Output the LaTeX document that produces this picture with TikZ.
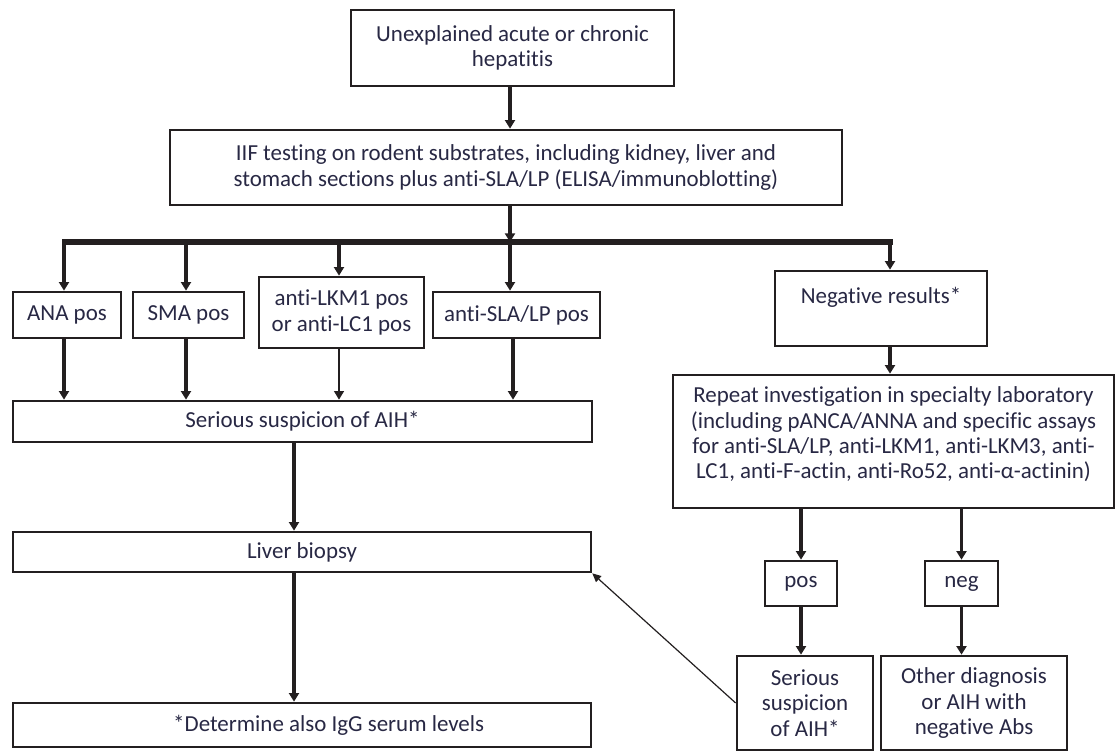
\documentclass[tikz,border=0pt]{standalone}
\usepackage{fontspec}
\setmainfont{Carlito}[Ligatures=NoCommon]
\usetikzlibrary{arrows.meta}
\definecolor{ink}{RGB}{35,31,32}
\definecolor{txt}{RGB}{40,40,68}
\begin{document}
\begin{tikzpicture}[x=0.75pt,y=-0.75pt,
  box/.style={draw=ink, line width=2pt, fill=white, inner sep=2pt, align=center, text=txt,
    font=\fontsize{17.2}{19}\selectfont},
  sz/.style 2 args={minimum width=#1*0.75pt, minimum height=#2*0.75pt},
  arr/.style={draw=ink, line width=2.3pt, -{Triangle[length=6.5pt,width=7.5pt]}},
  thinarr/.style={draw=ink, line width=0.9pt, -{Triangle[length=6.5pt,width=6pt]}},
  bar/.style={draw=ink, line width=4pt},
]
\useasboundingbox (0,0) rectangle (1117,753);
% nodes
\node[box, sz={323}{76}] (unx) at (512.5,48) {Unexplained acute or chronic\\hepatitis};
\node[box, sz={672}{75}] (iif) at (506,167.5) {IIF testing on rodent substrates, including kidney, liver and\\stomach sections plus anti-SLA/LP (ELISA/immunoblotting)};
\node[box, sz={108}{46}] (ana) at (67,315) {ANA pos};
\node[box, sz={111}{46}] (sma) at (188.5,315) {SMA pos};
\node[box, sz={165}{71}] (lkm) at (341.5,312.5) {anti-LKM1 pos\\or anti-LC1 pos};
\node[box, sz={167}{46}] (sla) at (516.5,315) {anti-SLA/LP pos};
\node[box, sz={212}{75}] (neg) at (881,308.5) {Negative results*\\[1pt]~};
\node[box, sz={579}{41}] (ser) at (302.5,421.5) {Serious suspicion of AIH*};
\node[box, sz={578}{40}] (liv) at (302,552) {Liver biopsy};
\node[box, sz={578}{44}] (det) at (302,725) {\hspace*{40pt}*Determine also IgG serum levels};
\node[box, sz={441}{133}] (rep) at (893.5,441.5) {Repeat investigation in specialty laboratory\\(including pANCA/ANNA and specific assays\\for anti-SLA/LP, anti-LKM1, anti-LKM3, anti-\\LC1, anti-F-actin, anti-Ro52, anti-α-actinin)\\[-6pt]\mbox{}};
\node[box, sz={72}{45}] (pos) at (801,583.5) {pos};
\node[box, sz={73}{45}] (ngr) at (961.5,583.5) {neg};
\node[box, sz={136}{94}] (ser2) at (805,703) {Serious\\suspicion\\of AIH*};
\node[box, sz={186}{94}] (oth) at (974,703) {Other diagnosis\\or AIH with\\negative Abs};
% coordinates
\coordinate (bL) at (62,242);
\coordinate (bR) at (893,242);
\coordinate (xa) at (64,242);
\coordinate (xs) at (186,242);
\coordinate (xl) at (339,242);
\coordinate (xm) at (510,242);
\coordinate (xn) at (890,242);
\coordinate (xsl) at (513,0);
\coordinate (xc) at (294,0);
% connectors
\draw[arr] (unx.south -| xm) -- (iif.north -| xm);
\draw[arr] (iif.south -| xm) -- (xm);
\draw[bar] (bL) -- (bR);
\draw[arr] (xa) -- (xa |- ana.north);
\draw[arr] (xs) -- (xs |- sma.north);
\draw[arr] (xl) -- (xl |- lkm.north);
\draw[arr] (xm) -- (xm |- sla.north);
\draw[arr] (xn) -- (xn |- neg.north);
\draw[arr] (ana.south -| xa) -- (ser.north -| xa);
\draw[arr] (sma.south -| xs) -- (ser.north -| xs);
\draw[arr, line width=1.1pt] (lkm.south -| xl) -- (ser.north -| xl);
\draw[arr] (sla.south -| xsl) -- (ser.north -| xsl);
\draw[arr] (ser.south -| xc) -- (liv.north -| xc);
\draw[arr] (liv.south -| xc) -- (det.north -| xc);
\draw[arr] (neg.south -| xn) -- (rep.north -| xn);
\draw[arr] (rep.south -| pos.north) -- (pos.north);
\draw[arr] (rep.south -| ngr.north) -- (ngr.north);
\draw[arr] (pos.south) -- (ser2.north -| pos.south);
\draw[arr] (ngr.south) -- (oth.north -| ngr.south);
\draw[thinarr] (ser2.west) -- (liv.south east);
\end{tikzpicture}
\end{document}
